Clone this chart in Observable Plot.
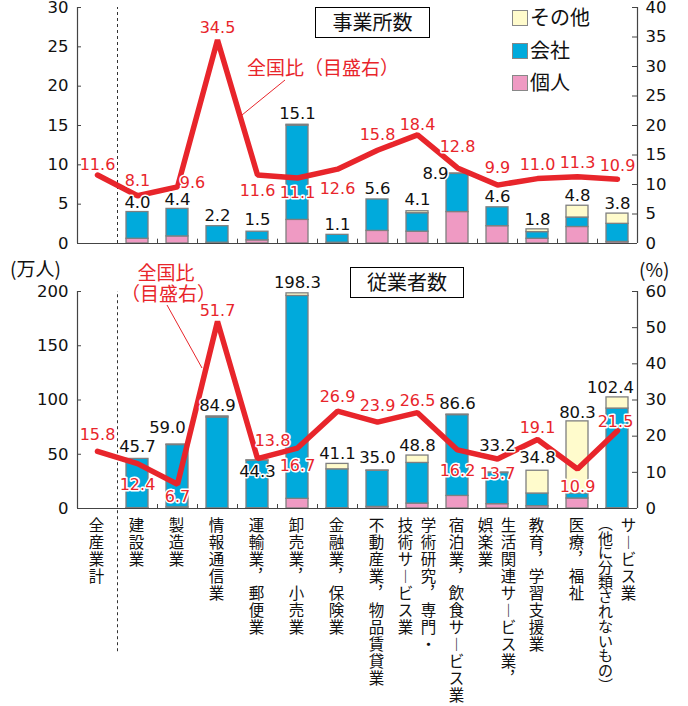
<!DOCTYPE html>
<html><head><meta charset="utf-8">
<script src="https://cdn.jsdelivr.net/npm/d3@7"></script>
<script src="https://cdn.jsdelivr.net/npm/@observablehq/plot@0.6"></script>
<style>
body{margin:0;background:#fff;}
#wrap{position:relative;width:688px;height:706px;overflow:hidden;font-family:"Noto Sans CJK JP",sans-serif;}
#wrap svg{position:absolute;left:0;}
.box{position:absolute;border:1px solid #000;background:#fff;font-size:20px;line-height:28px;text-align:center;color:#111;}
.ann{position:absolute;color:#e8252b;font-size:19px;line-height:21px;white-space:nowrap;}
.unit{position:absolute;font-size:19px;color:#111;white-space:nowrap;}
.leg{position:absolute;left:512px;font-size:20px;line-height:20px;color:#111;white-space:nowrap;}
.leg i{display:inline-block;width:14px;height:14px;border:1px solid #888;vertical-align:-1px;margin-right:2px;}
</style>
</head><body>
<div id="wrap"></div>
<script>
// ---------- data ----------
const categories = ["全産業計","建設業","製造業","情報通信業","運輸業，郵便業","卸売業，小売業","金融業，保険業","不動産業，物品賃貸業","学術研究，専門・技術サービス業","宿泊業，飲食サービス業","生活関連サービス業，娯楽業","教育，学習支援業","医療，福祉","サービス業（他に分類されないもの）"];
const types = ["個人","会社","その他"];

// 事業所数 (万)
const estKojin  = [null,0.6,0.9,0.1,0.4,3.0,0.1,1.6,1.5,4.0,2.2,0.6,2.1,0.2];
const estKaisha = [null,3.4,3.5,2.1,1.1,12.0,1.0,4.0,2.35,4.85,2.4,0.85,1.2,2.3];
const estSonota = [null,0,0,0,0,0.1,0,0,0.25,0.05,0,0.35,1.5,1.3];
const estTotal  = [null,4.0,4.4,2.2,1.5,15.1,1.1,5.6,4.1,8.9,4.6,1.8,4.8,3.8];
const estPct    = [11.6,8.1,9.6,34.5,11.6,11.1,12.6,15.8,18.4,12.8,9.9,11.0,11.3,10.9];

// 従業者数 (万人)
const empKojin  = [null,0.4,1.0,0.1,0.3,8.9,0.3,1.5,4.5,11.6,4.0,2.1,9.2,0.3];
const empKaisha = [null,45.3,57.5,83.8,43.9,187.0,35.8,33.3,37.5,74.5,28.7,11.7,4.6,91.8];
const empSonota = [null,0,0.5,1.0,0.1,2.4,5.0,0.2,6.8,0.5,0.5,21.0,66.5,10.3];
const empTotal  = [null,45.7,59.0,84.9,44.3,198.3,41.1,35.0,48.8,86.6,33.2,34.8,80.3,102.4];
const empPct    = [15.8,12.4,6.7,51.7,13.8,16.7,26.9,23.9,26.5,16.2,13.7,19.1,10.9,21.5];

// tick labels
const topLeftTicks = [0,5,10,15,20,25,30];
const topRightTicks = [0,5,10,15,20,25,30,35,40];
const botLeftTicks = [0,50,100,150,200];
const botRightTicks = [0,10,20,30,40,50,60];
const catLabelCols = [["全産業計"],["建設業"],["製造業"],["情報通信業"],["運輸業，郵便業"],["卸売業，小売業"],["金融業，保険業"],["不動産業，物品賃貸業"],["学術研究，専門・","技術サービス業"],["宿泊業，飲食サービス業"],["生活関連サービス業，","娯楽業"],["教育，学習支援業"],["医療，福祉"],["サービス業","（他に分類されないもの）"]];

// label placement (pixel offsets)
const topRedDx = [0,0,15,0,0,0,0,0,0,0,0,0,0,0];
const topRedDy = [-10,-15,-4,-12,16,15,20,-15,-10,-21,-17,-14,-14,-13];
const topBlkDx = [0,0,0,0,0,0,0,0,0,-22,0,0,0,0];
const topBlkDy = [0,-9,-9,-10,-12,-11,-10,-11,-12,0,-11,-10,-10,-10];
const botRedDx = [0,0,0,0,15,0,0,0,0,0,0,0,0,-2];
const botRedDy = [-16,21,13,-11,-18,18,-14,-16,-12,21,15,-12,18,-9];
const botBlkDx = [0,0,-10,0,0,0,0,0,0,0,0,0,0,-7];
const botBlkDy = [0,-12,-17,-11,11,-11,-10,-13,-10,-11,-27,-13,-9,-10];

// ---------- style ----------
const colors = ["#ef9ac3","#00aadc","#fffbcc"];
const red = "#e8252b";
const axisColor = "#444";
const numFont = "DejaVu Sans";
const jpFont = "Noto Sans CJK JP";

function stackRows(k, c, s) {
  const rows = [];
  categories.forEach((cat, i) => {
    [[types[0],k[i]],[types[1],c[i]],[types[2],s[i]]].forEach(([t,v]) => {
      if (v != null && v > 0) rows.push({cat, type: t, value: v});
    });
  });
  return rows;
}

function panel({height, marginTop, marginBottom, yMax, rightMax, leftTicks, rightTicks, k, kaisha, sonota, total, pct, redDx, redDy, blkDx, blkDy, tickLen, dashBottom, withLabels}) {
  const W = 688, mL = 77, mR = 51;
  const fw = W - mL - mR;
  const step = fw / categories.length;
  const f = yMax / rightMax;
  const rows = stackRows(k, kaisha, sonota);
  const lineRows = categories.map((cat, i) => ({cat, v: pct[i] * f, i}));
  const marks = [
    Plot.barY(rows, Plot.stackY({x: "cat", y: "value", fill: "type", order: types, stroke: "#7f7f7f", strokeWidth: 1.3, insetLeft: 9, insetRight: 9})),
    Plot.ruleY([0], {stroke: axisColor, strokeWidth: 1.2}),
    Plot.ruleX([categories[0]], {x: d => d, dx: -step/2, y1: 0, y2: yMax, stroke: axisColor, strokeWidth: 1.2}),
    Plot.ruleX([categories[categories.length-1]], {x: d => d, dx: step/2, y1: 0, y2: yMax, stroke: axisColor, strokeWidth: 1.2}),
    Plot.ruleX(categories.slice(2), {x: d => d, dx: -step/2, y1: 0, y2: tickLen, stroke: axisColor}),
    Plot.ruleX([categories[1]], {x: d => d, dx: -step/2, y1: dashBottom, y2: yMax, stroke: "#333", strokeDasharray: "3,3"}),
    Plot.tickY(leftTicks, {y: d => d, insetRight: fw - 4, stroke: axisColor}),
    Plot.tickY(rightTicks.map(v => v * f), {y: d => d, insetLeft: fw - 5, stroke: axisColor}),
    Plot.axisY(leftTicks, {anchor: "left", tickSize: 0, tickPadding: 9, fontSize: 16.5, label: null, fill: "#111"}),
    Plot.axisY(rightTicks.map(v => v * f), {anchor: "right", tickSize: 0, tickPadding: 8, fontSize: 16.5, label: null, fill: "#111", tickFormat: d => Math.round(d / f)}),
    Plot.line(lineRows, {x: "cat", y: "v", stroke: red, strokeWidth: 5.5, strokeLinejoin: "miter"})
  ];
  categories.forEach((cat, i) => {
    if (total[i] != null) {
      marks.push(Plot.text([{cat, t: total[i]}], {x: "cat", y: "t", text: d => d.t.toFixed(1), dx: blkDx[i], dy: blkDy[i], fontSize: 16.5, fill: "#111", stroke: "white", strokeWidth: 3, fontFamily: numFont}));
    }
  });
  lineRows.forEach((d, i) => {
    marks.push(Plot.text([d], {x: "cat", y: "v", text: d => pct[d.i].toFixed(1), dx: redDx[i], dy: redDy[i], fontSize: 16, fill: red, stroke: "white", strokeWidth: 3, fontFamily: numFont}));
  });
  if (withLabels) {
    const vmap = {"，": "\uFE10", "（": "\uFE35", "）": "\uFE36", "ー": "\uFE31"};
    const vert = s => [...s].map(ch => vmap[ch] ?? ch).join("\n");
    const single = [], right = [], left = [], longLeft = [];
    categories.forEach((cat, i) => {
      const cols = catLabelCols[i];
      if (cols.length === 1) single.push({cat, t: vert(cols[0])});
      else {
        right.push({cat, t: vert(cols[0])});
        (cols[1].length > 10 ? longLeft : left).push({cat, t: vert(cols[1])});
      }
    });
    const opts = {x: "cat", text: "t", frameAnchor: "bottom", lineAnchor: "top", dy: 10, lineHeight: 1.1, fontSize: 15.5, fontFamily: jpFont, fill: "#111"};
    marks.push(Plot.text(single, {...opts, dx: -1}));
    marks.push(Plot.text(right, {...opts, dx: 11}));
    marks.push(Plot.text(left, {...opts, dx: -12}));
    marks.push(Plot.text(longLeft, {...opts, dx: -12, fontSize: 15, lineHeight: 0.98}));
  }
  return Plot.plot({
    width: W, height, marginTop, marginBottom, marginLeft: mL, marginRight: mR,
    x: {domain: categories, padding: 0, axis: null},
    y: {domain: [0, yMax]},
    color: {domain: types, range: colors},
    style: {fontFamily: numFont, background: "transparent", overflow: "visible", color: "#111"},
    marks
  });
}

const wrap = document.getElementById("wrap");
const topPanel = panel({height: 250, marginTop: 7, marginBottom: 7, yMax: 30, rightMax: 40, leftTicks: topLeftTicks, rightTicks: topRightTicks,
  k: estKojin, kaisha: estKaisha, sonota: estSonota, total: estTotal, pct: estPct,
  redDx: topRedDx, redDy: topRedDy, blkDx: topBlkDx, blkDy: topBlkDy, tickLen: 0.55, dashBottom: 0, withLabels: false});
topPanel.style.top = "0px";
wrap.appendChild(topPanel);
const botPanel = panel({height: 456, marginTop: 41, marginBottom: 198, yMax: 200, rightMax: 60, leftTicks: botLeftTicks, rightTicks: botRightTicks,
  k: empKojin, kaisha: empKaisha, sonota: empSonota, total: empTotal, pct: empPct,
  redDx: botRedDx, redDy: botRedDy, blkDx: botBlkDx, blkDy: botBlkDy, tickLen: 3.7, dashBottom: -132, withLabels: true});
botPanel.style.top = "250px";
wrap.appendChild(botPanel);

// ---------- overlays ----------
function add(html) { wrap.insertAdjacentHTML("beforeend", html); }
add(`<div class="box" style="left:315px;top:7px;width:113px;height:29px;">事業所数</div>`);
add(`<div class="box" style="left:350px;top:267px;width:112px;height:29px;">従業者数</div>`);
add(`<div class="ann" style="left:247px;top:56px;">全国比（目盛右）</div>`);
add(`<div class="ann" style="left:121px;top:261px;width:90px;text-align:center;">全国比<br>（目盛右）</div>`);
add(`<div class="unit" style="left:10px;top:254px;">(万人)</div>`);
add(`<div class="unit" style="left:639px;top:255px;">(%)</div>`);
const legTops = [7, 40, 72];
[2,1,0].forEach((ti, j) => add(`<div class="leg" style="top:${legTops[j]}px;"><i style="background:${colors[ti]}"></i>${types[ti]}</div>`));
add(`<svg width="688" height="706" style="top:0;pointer-events:none"><line x1="285" y1="80" x2="242" y2="115" stroke="${red}" stroke-width="1"/><line x1="167" y1="305" x2="202" y2="368" stroke="${red}" stroke-width="1"/></svg>`);
</script>
</body></html>
